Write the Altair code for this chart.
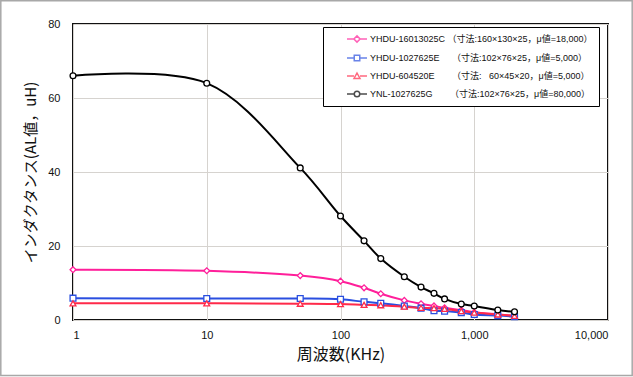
import altair as alt
import pandas as pd

freqs = [1, 10, 50, 100, 150, 200, 300, 400, 500, 600, 800, 1000, 1500, 2000]
pink_vals = [13.6, 13.3, 12.0, 10.5, 8.7, 7.1, 5.3, 4.4, 3.8, 3.3, 2.7, 2.1, 1.5, 1.1]
blue_vals = [5.9, 5.8, 5.8, 5.6, 4.9, 4.5, 3.8, 3.2, 2.5, 2.4, 2.0, 1.5, 1.2, 0.9]
red_vals = [4.5, 4.5, 4.4, 4.3, 4.1, 4.0, 3.6, 3.3, 3.2, 3.0, 2.4, 2.0, 1.5, 1.1]
black_vals = [66.0, 64.0, 41.1, 28.1, 21.4, 16.6, 11.7, 8.9, 7.2, 5.7, 4.3, 3.8, 2.7, 2.2]

NB = "\u00a0"
series_names = [
    "YHDU-16013025C" + NB + "（寸法:160×130×25，μ値=18,000）",
    "YHDU-1027625E" + NB * 5 + "（寸法:102×76×25，μ値=5,000）",
    "YHDU-604520E" + NB * 7 + "（寸法:" + NB * 3 + "60×45×20，μ値=5,000）",
    "YNL-1027625G" + NB * 7 + "（寸法:102×76×25，μ値=80,000）",
]
series_values = [pink_vals, blue_vals, red_vals, black_vals]
colors = ["#ff1f9a", "#2a4fe0", "#ff2a4a", "#000000"]
shapes = ["diamond", "square", "triangle-up", "circle"]

legend_paths = [
    "M-2,0L-0.62,0M0.62,0L2,0M0,-0.62L0.62,0L0,0.62L-0.62,0Z",
    "M-2,0L-0.55,0M0.55,0L2,0M-0.55,-0.55H0.55V0.55H-0.55Z",
    "M-2,0L-0.6,0M0.6,0L2,0M0,-0.6L0.6,0.5H-0.6Z",
    "M-2,0L-0.55,0M0.55,0L2,0M0.55,0A0.55,0.55 0 1,1 -0.55,0A0.55,0.55 0 1,1 0.55,0",
]

rows = []
for name, vals in zip(series_names, series_values):
    for f, v in zip(freqs, vals):
        rows.append({"freq": f, "value": v, "series": name})
df = pd.DataFrame(rows)

x_enc = alt.X(
    "freq:Q",
    scale=alt.Scale(type="log", domain=[1, 10000]),
    axis=alt.Axis(
        values=[1, 10, 100, 1000, 10000],
        format=",",
        title="周波数(KHz)",
        titleFontSize=16,
        labelPadding=9,
        titlePadding=6,
        ticks=False,
        domain=False,
    ),
)
y_enc = alt.Y(
    "value:Q",
    scale=alt.Scale(domain=[0, 80]),
    axis=alt.Axis(
        values=[0, 20, 40, 60, 80],
        title="インダクタンス(AL値，uH)",
        titleFontSize=15,
        labelPadding=13,
        titlePadding=9,
        ticks=False,
        domain=False,
    ),
)

base = alt.Chart(df)
layers = []

# outer grey frame of the figure
layers.append(
    base.transform_filter("datum.freq == 1 && datum.series == '" + series_names[0] + "'")
    .mark_rect(fill=None, stroke="#a8a8a8", strokeWidth=1.5)
    .encode(
        x=alt.value(-72.2),
        x2=alt.value(535 + 24.2),
        y=alt.value(-23.2),
        y2=alt.value(296 + 55.5),
    )
)

for name, col in zip(series_names, colors):
    sub = base.transform_filter(alt.datum.series == name)
    layers.append(
        sub.mark_line(color=col, strokeWidth=2, interpolate="catmull-rom").encode(x=x_enc, y=y_enc)
    )
for name, col, shp in zip(series_names, colors, shapes):
    sub = base.transform_filter(alt.datum.series == name)
    layers.append(
        sub.mark_point(shape=shp, color=col, fill="white", filled=False, opacity=1,
                       size=34, strokeWidth=1.3).encode(x=x_enc, y=y_enc)
    )

legend_layer = base.transform_filter("false").mark_point(filled=False, strokeWidth=1.5).encode(
    color=alt.Color(
        "series:N",
        scale=alt.Scale(domain=series_names, range=colors),
        legend=alt.Legend(
            title=None,
            orient="none",
            legendX=250,
            legendY=3,
            padding=6,
            fillColor="white",
            strokeColor="#000000",
            symbolOffset=22,
            labelOffset=7,
            rowPadding=6,
            symbolSize=100,
            symbolStrokeWidth=1.5,
            symbolFillColor="white",
            labelFont="Liberation Sans, Noto Sans CJK JP",
            labelFontSize=9,
            labelColor="#111111",
            labelLimit=400,
        ),
    ),
    shape=alt.Shape(
        "series:N",
        scale=alt.Scale(domain=series_names, range=legend_paths),
    ),
)
layers.append(legend_layer)

chart = alt.layer(*layers).properties(
    width=535,
    height=296,
    autosize=alt.AutoSizeParams(type="none"),
    padding={"left": 73, "top": 24, "right": 25, "bottom": 57},
    background="white",
).configure_view(
    stroke="#111111",
    strokeWidth=2,
).configure_axis(
    labelFont="Liberation Sans",
    labelFontSize=11,
    labelColor="#111111",
    titleFont="Noto Sans CJK JP",
    titleFontWeight="normal",
    titleColor="#111111",
    gridColor="#d6d3cf",
    gridWidth=1,
)

chart.save("out.html", embed_options={"renderer": "svg", "actions": False})
